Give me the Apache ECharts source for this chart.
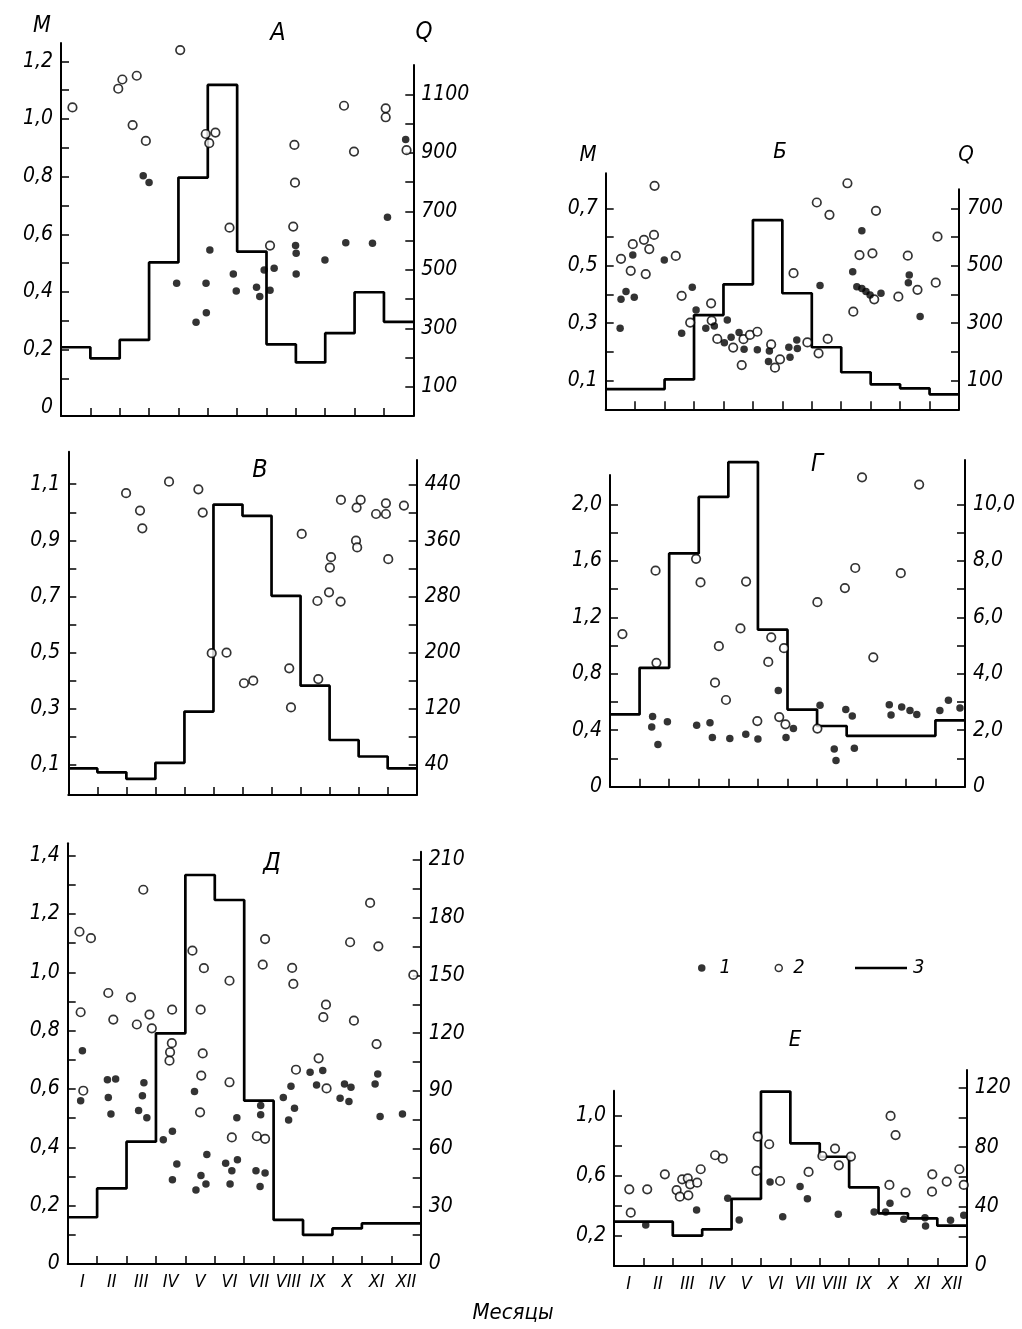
<!DOCTYPE html>
<html><head><meta charset="utf-8">
<script src="https://cdn.jsdelivr.net/npm/echarts@6/dist/echarts.min.js"></script>
<style>html,body{margin:0;padding:0;background:#fff}#c{width:1022px;height:1329px}</style>
</head><body><div id="c"></div>
<script>
// ---------- DATA ----------
const months = ['I','II','III','IV','V','VI','VII','VIII','IX','X','XI','XII'];

// Panel А
const qA = [235,197,260,525,815,1132,562,245,183,283,423,322];
const dotsA = [[2.80,0.803],[3.00,0.78],[3.94,0.43],[4.60,0.295],[4.94,0.43],[4.95,0.328],[5.07,0.546],[5.87,0.462],[5.97,0.403],[6.66,0.416],[6.77,0.384],[6.92,0.476],[7.26,0.482],[7.12,0.406],[7.99,0.561],[8.01,0.534],[8.01,0.462],[8.99,0.511],[9.70,0.571],[10.61,0.569],[11.12,0.659],[11.74,0.929]];
const circA = [[0.39,1.04],[1.95,1.105],[2.09,1.137],[2.58,1.15],[2.44,0.979],[2.89,0.924],[4.06,1.239],[5.02,1.294],[4.93,0.948],[5.05,0.916],[5.26,0.953],[5.74,0.623],[7.12,0.561],[7.95,0.91],[7.97,0.779],[7.91,0.627],[9.64,1.046],[9.98,0.887],[11.06,1.037],[11.06,1.006],[11.77,0.892]];
const mLabA = [0,0.2,0.4,0.6,0.8,1.0,1.2];
const mTickA = [0.1,0.2,0.3,0.4,0.5,0.6,0.7,0.8,0.9,1.0,1.1,1.2];
const qLabA = [100,300,500,700,900,1100];
const qTickA = [100,200,300,400,500,600,700,800,900,1000,1100];

// Panel Б
const qB = [70,70,104,328,435,659,404,216,129,87,73,52];
const dotsB = [[0.49,0.282],[0.52,0.383],[0.69,0.410],[0.92,0.537],[0.97,0.390],[1.99,0.520],[2.58,0.265],[2.94,0.425],[3.07,0.346],[3.40,0.282],[3.69,0.290],[4.13,0.311],[4.03,0.232],[4.26,0.251],[4.53,0.267],[4.70,0.209],[5.15,0.207],[5.56,0.203],[5.53,0.166],[6.26,0.181],[6.22,0.216],[6.49,0.241],[6.51,0.212],[7.28,0.431],[8.39,0.479],[8.70,0.622],[8.53,0.427],[8.70,0.421],[8.84,0.410],[8.98,0.398],[9.35,0.404],[10.31,0.468],[10.28,0.441],[10.68,0.323]];
const circB = [[0.52,0.524],[0.85,0.482],[0.92,0.575],[1.30,0.590],[1.36,0.471],[1.48,0.558],[1.64,0.607],[1.66,0.778],[2.38,0.534],[2.58,0.395],[2.87,0.302],[3.58,0.369],[3.60,0.309],[3.79,0.245],[4.33,0.215],[4.62,0.154],[4.68,0.244],[4.90,0.259],[5.15,0.270],[5.62,0.226],[5.75,0.145],[5.92,0.174],[6.38,0.474],[6.85,0.233],[7.17,0.720],[7.23,0.195],[7.54,0.245],[7.60,0.677],[8.21,0.787],[8.41,0.340],[8.62,0.537],[9.06,0.543],[9.12,0.383],[9.18,0.691],[9.94,0.392],[10.26,0.535],[10.59,0.416],[11.21,0.441],[11.27,0.601]];
const mLabB = [0.1,0.3,0.5,0.7];
const mTickB = [0.1,0.2,0.3,0.4,0.5,0.6,0.7];
const qLabB = [100,300,500,700];
const qTickB = [100,200,300,400,500,600,700];

// Panel В
const qV = [35,29.5,20,43,116,411,395,281,153,75.5,52,35];
const dotsV = [];
const circV = [[1.99,1.068],[2.47,1.006],[2.55,0.943],[3.47,1.109],[4.48,1.082],[4.63,0.999],[4.94,0.498],[5.45,0.500],[6.05,0.391],[6.37,0.400],[7.61,0.444],[7.67,0.305],[8.04,0.923],[8.58,0.684],[8.61,0.406],[8.98,0.715],[9.01,0.803],[9.05,0.840],[9.38,0.682],[9.39,1.044],[9.91,0.899],[9.95,0.875],[9.93,1.017],[10.07,1.044],[10.60,0.994],[10.94,1.032],[10.94,0.994],[11.02,0.833],[11.56,1.024]];
const mLabV = [0.1,0.3,0.5,0.7,0.9,1.1];
const mTickV = [0.1,0.2,0.3,0.4,0.5,0.6,0.7,0.8,0.9,1.0,1.1];
const qLabV = [40,120,200,280,360,440];
const qTickV = [40,80,120,160,200,240,280,320,360,400,440];

// Panel Г
const qG = [2.56,4.21,8.26,10.26,11.49,5.56,2.73,2.15,1.80,1.80,1.80,2.35];
const dotsG = [[1.44,0.498],[1.41,0.423],[1.62,0.298],[1.94,0.460],[2.93,0.435],[3.38,0.453],[3.46,0.349],[4.05,0.342],[4.59,0.372],[5.00,0.337],[5.69,0.681],[5.95,0.349],[6.20,0.412],[7.10,0.577],[7.58,0.267],[7.64,0.186],[7.97,0.547],[8.19,0.500],[8.26,0.272],[9.44,0.581],[9.50,0.507],[9.86,0.565],[10.14,0.540],[10.37,0.512],[11.15,0.540],[11.44,0.612],[11.83,0.558]];
const circG = [[0.42,1.081],[1.54,1.530],[1.57,0.877],[2.91,1.614],[3.06,1.447],[3.55,0.737],[3.68,0.995],[3.92,0.614],[4.41,1.121],[4.60,1.453],[4.98,0.465],[5.35,0.884],[5.45,1.058],[5.72,0.493],[5.88,0.981],[5.93,0.442],[7.01,1.307],[7.01,0.412],[7.94,1.407],[8.29,1.549],[8.52,2.191],[8.90,0.916],[9.83,1.512],[10.45,2.140]];
const mLabG = [0,0.4,0.8,1.2,1.6,2.0];
const mTickG = [0.2,0.4,0.6,0.8,1.0,1.2,1.4,1.6,1.8,2.0];
const qLabG = [0,2,4,6,8,10];
const qTickG = [1,2,3,4,5,6,7,8,9,10];

// Panel Д
const qD = [24.3,39.3,63.6,119.9,202.2,189.2,84.9,22.9,15.1,18.5,21.1,21.1];
const dotsD = [[0.50,0.731],[0.44,0.560],[1.35,0.632],[1.63,0.634],[1.38,0.571],[1.47,0.514],[2.59,0.621],[2.54,0.577],[2.41,0.526],[2.69,0.501],[3.25,0.426],[3.56,0.455],[3.71,0.343],[3.56,0.289],[4.31,0.591],[4.36,0.254],[4.53,0.303],[4.70,0.274],[4.73,0.375],[5.37,0.345],[5.58,0.320],[5.52,0.274],[5.77,0.357],[5.75,0.501],[6.56,0.543],[6.56,0.512],[6.40,0.320],[6.71,0.312],[6.54,0.266],[7.33,0.571],[7.59,0.609],[7.51,0.494],[7.71,0.534],[8.24,0.657],[8.67,0.663],[8.46,0.614],[9.26,0.568],[9.41,0.617],[9.63,0.606],[9.56,0.557],[10.45,0.617],[10.54,0.651],[10.62,0.506],[11.38,0.514]];
const circD = [[0.40,1.139],[0.79,1.117],[0.44,0.863],[0.53,0.594],[1.38,0.929],[1.55,0.838],[2.15,0.914],[2.57,1.283],[2.35,0.821],[2.78,0.855],[2.86,0.808],[3.55,0.872],[3.54,0.757],[3.48,0.726],[3.46,0.697],[4.24,1.074],[4.63,1.014],[4.52,0.872],[4.59,0.722],[4.54,0.646],[4.50,0.520],[5.50,0.971],[5.50,0.623],[5.58,0.434],[6.71,1.114],[6.63,1.026],[6.43,0.438],[6.71,0.429],[7.63,1.015],[7.67,0.960],[7.76,0.666],[8.53,0.705],[8.78,0.889],[8.69,0.846],[8.80,0.602],[9.60,1.103],[9.73,0.834],[10.28,1.238],[10.56,1.089],[10.50,0.754],[11.75,0.991]];
const mLabD = [0,0.2,0.4,0.6,0.8,1.0,1.2,1.4];
const mTickD = [0.1,0.2,0.3,0.4,0.5,0.6,0.7,0.8,0.9,1.0,1.1,1.2,1.3,1.4];
const qLabD = [0,30,60,90,120,150,180,210];
const qTickD = [15,30,45,60,75,90,105,120,135,150,165,180,195,210];

// Panel Е
const qE = [29.8,29.8,20.4,24.7,45.1,117.3,82.5,73.5,52.9,35.4,32.1,27.1];
const dotsE = [[1.08,0.272],[2.81,0.372],[3.87,0.449],[4.26,0.305],[5.31,0.558],[5.74,0.327],[6.33,0.527],[6.58,0.447],[7.63,0.343],[8.85,0.358],[9.24,0.358],[9.39,0.416],[9.86,0.310],[10.58,0.321],[10.60,0.265],[11.45,0.303],[11.90,0.336]];
const circE = [[0.52,0.509],[0.57,0.354],[1.13,0.509],[1.73,0.608],[2.13,0.504],[2.24,0.460],[2.32,0.575],[2.53,0.469],[2.51,0.582],[2.59,0.542],[2.83,0.553],[2.95,0.642],[3.44,0.735],[3.70,0.712],[4.89,0.858],[4.85,0.631],[5.28,0.808],[5.65,0.564],[6.62,0.624],[7.09,0.730],[7.52,0.779],[7.65,0.668],[8.06,0.726],[9.41,0.996],[9.58,0.869],[9.37,0.538],[9.92,0.487],[10.83,0.608],[10.82,0.493],[11.32,0.560],[11.75,0.642],[11.90,0.538]];
const mLabE = [0.2,0.6,1.0];
const mTickE = [0.2,0.4,0.6,0.8,1.0];
const qLabE = [0,40,80,120];
const qTickE = [20,40,60,80,100,120];

const legendNames = ['1','2','3'];
const axisLetters = ['M','Q'];
const panelLetters = ['А','Б','В','Г','Д','Е'];
const xName = 'Месяцы';

// ---------- LAYOUT (pixels) ----------
const FONT = "'Liberation Sans Narrow','DejaVu Sans Condensed','Liberation Sans',sans-serif";
const INK = '#000';

const panels = [
  {q:qA, dots:dotsA, circ:circA, mLab:mLabA, mTick:mTickA, qLab:qLabA, qTick:qTickA, mDec:1, qDec:0,
   xL:61, xR:413.3, yB:416, topM:43, topQ:65, m0:407.3, mpx:288.3, q0:416, qpx:0.2925, months:false},
  {q:qB, dots:dotsB, circ:circB, mLab:mLabB, mTick:mTickB, qLab:qLabB, qTick:qTickB, mDec:1, qDec:0,
   xL:605.7, xR:959, yB:409.3, topM:173.3, topQ:189.3, m0:409.3, mpx:287.2, q0:409.3, qpx:0.2872, months:false},
  {q:qV, dots:dotsV, circ:circV, mLab:mLabV, mTick:mTickV, qLab:qLabV, qTick:qTickV, mDec:1, qDec:0,
   xL:68.3, xR:416.7, yB:795, topM:451.7, topQ:460, m0:793, mpx:280.7, q0:793, qpx:0.7017, months:false},
  {q:qG, dots:dotsG, circ:circG, mLab:mLabG, mTick:mTickG, qLab:qLabG, qTick:qTickG, mDec:1, qDec:1,
   xL:610, xR:965, yB:786.7, topM:475, topQ:460, m0:786.7, mpx:141.2, q0:786.7, qpx:28.24, months:false},
  {q:qD, dots:dotsD, circ:circD, mLab:mLabD, mTick:mTickD, qLab:qLabD, qTick:qTickD, mDec:1, qDec:0,
   xL:67.7, xR:420.7, yB:1264, topM:843.3, topQ:851.7, m0:1264, mpx:291.7, q0:1264, qpx:1.9238, months:true},
  {q:qE, dots:dotsE, circ:circE, mLab:mLabE, mTick:mTickE, qLab:qLabE, qTick:qTickE, mDec:1, qDec:0,
   xL:614, xR:966.7, yB:1266, topM:1090.7, topQ:1070, m0:1266, mpx:150.7, q0:1266, qpx:1.4867, months:true}
];

const textPos = [
  [axisLetters[0],42,26,23],[panelLetters[0],278,33,25],[axisLetters[1],424,33,24],
  [axisLetters[0],588,155,22],[panelLetters[1],780,152,22],[axisLetters[1],966,155,22],
  [panelLetters[2],260,470,25],[panelLetters[3],817,465,24],[panelLetters[4],272,863,25],
  [panelLetters[5],795,1040,22],[xName,513,1313,22]
];

function fmt(dec){ return v => (Math.abs(v) < 1e-9 ? '0' : v.toFixed(dec).replace('.', ',')); }
function stepData(q){ const d = q.map((v,i)=>[i,v]); d.push([12,q[q.length-1]]); return d; }
const monthTicks = [1,2,3,4,5,6,7,8,9,10,11];
const monthMid = months.map((m,i)=>i+0.5);
const labelStyle = {color:INK, fontFamily:FONT, fontStyle:'italic', fontSize:21};

const grid=[], xAxis=[], yAxis=[], series=[];
panels.forEach((p,i)=>{
  const w = p.xR - p.xL;
  grid.push({left:p.xL, top:p.topM, width:w, height:p.yB-p.topM, outerBoundsMode:'none', containLabel:false});
  grid.push({left:p.xL, top:p.topQ, width:w, height:p.yB-p.topQ, outerBoundsMode:'none', containLabel:false});
  xAxis.push({gridIndex:2*i, type:'value', min:0, max:12,
    axisLine:{show:true, onZero:false, lineStyle:{color:INK, width:2}},
    axisTick:{show:true, inside:true, length:8, customValues:monthTicks, lineStyle:{color:INK, width:1.5}},
    axisLabel:Object.assign({}, labelStyle, {show:p.months, customValues:monthMid, margin:9, fontSize:18,
      formatter:v=>months[Math.floor(v)]}),
    splitLine:{show:false}});
  xAxis.push({gridIndex:2*i+1, type:'value', min:0, max:12, show:false});
  yAxis.push({gridIndex:2*i, type:'value', position:'left',
    min:-(p.yB-p.m0)/p.mpx, max:(p.m0-p.topM)/p.mpx,
    axisLine:{show:true, onZero:false, lineStyle:{color:INK, width:2}},
    axisTick:{show:true, inside:true, length:8, customValues:p.mTick, lineStyle:{color:INK, width:1.5}},
    axisLabel:Object.assign({customValues:p.mLab, margin:8, formatter:fmt(p.mDec)}, labelStyle),
    splitLine:{show:false}});
  yAxis.push({gridIndex:2*i+1, type:'value', position:'right',
    min:-(p.yB-p.q0)/p.qpx, max:(p.q0-p.topQ)/p.qpx,
    axisLine:{show:true, onZero:false, lineStyle:{color:INK, width:2}},
    axisTick:{show:true, inside:true, length:8, customValues:p.qTick, lineStyle:{color:INK, width:1.5}},
    axisLabel:Object.assign({customValues:p.qLab, margin:8, formatter:fmt(p.qDec)}, labelStyle),
    splitLine:{show:false}});
  series.push({type:'line', name:legendNames[2], xAxisIndex:2*i+1, yAxisIndex:2*i+1, data:stepData(p.q),
    step:'end', symbol:'none', lineStyle:{color:INK, width:2.7}, z:2, silent:true});
  series.push({type:'scatter', name:legendNames[1], xAxisIndex:2*i, yAxisIndex:2*i, data:p.circ,
    symbol:'circle', symbolSize:8.5, itemStyle:{color:'#fff', borderColor:INK, borderWidth:1.7}, z:3, silent:true});
  series.push({type:'scatter', name:legendNames[0], xAxisIndex:2*i, yAxisIndex:2*i, data:p.dots,
    symbol:'circle', symbolSize:7.5, itemStyle:{color:INK}, z:4, silent:true});
});

const legTxt = (pad)=>Object.assign({}, labelStyle, {fontSize:20, padding:[0,0,0,pad]});
const legend = [
  {data:[{name:legendNames[0], icon:'circle'}], left:698, top:958, padding:0, itemWidth:7.5, itemHeight:7.5, selectedMode:false,
   itemStyle:{color:INK, borderWidth:0}, textStyle:legTxt(9)},
  {data:[{name:legendNames[1], icon:'circle'}], left:774.5, top:958, padding:0, itemWidth:7, itemHeight:7, selectedMode:false,
   itemStyle:{color:'#fff', borderColor:INK, borderWidth:1.5}, textStyle:legTxt(6)},
  {data:[{name:legendNames[2], icon:'rect'}], left:855, top:958, padding:0, itemWidth:52, itemHeight:2.7, selectedMode:false,
   itemStyle:{color:INK, borderWidth:0}, textStyle:legTxt(1)}
];

const graphic = textPos.map(t=>({type:'text', x:t[1], y:t[2], silent:true,
  style:{text:t[0], fill:INK, font:'italic '+t[3]+'px '+FONT, align:'center', verticalAlign:'middle'}}));

const chart = echarts.init(document.getElementById('c'), null, {renderer:'canvas'});
chart.setOption({animation:false, backgroundColor:'#fff', grid, xAxis, yAxis, series, legend, graphic});
</script></body></html>
